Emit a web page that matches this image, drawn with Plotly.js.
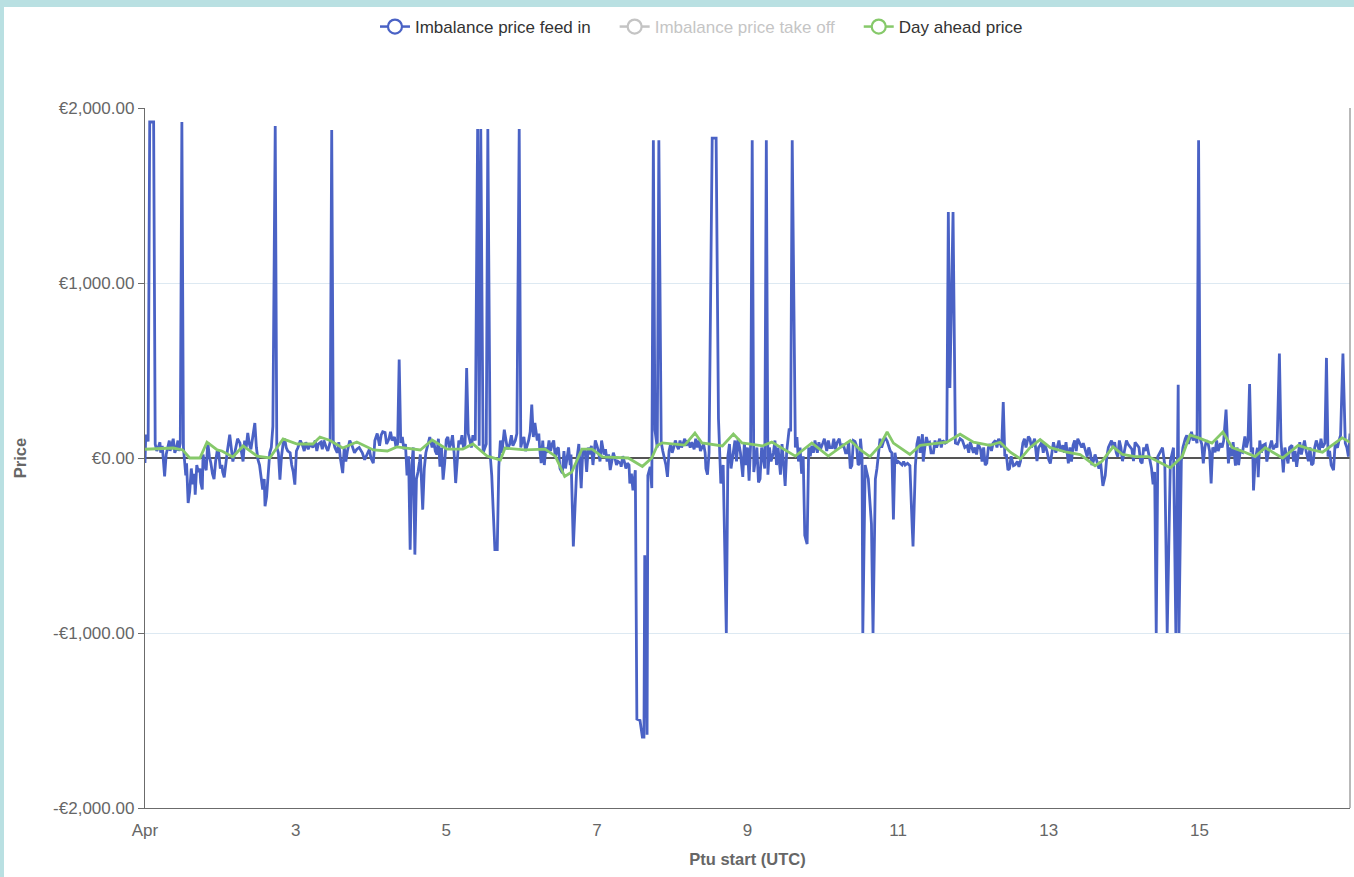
<!DOCTYPE html>
<html>
<head>
<meta charset="utf-8">
<script src="https://cdn.plot.ly/plotly-3.0.1.min.js"></script>
<style>
  html, body { margin: 0; padding: 0; background: #b9e0e2; overflow: hidden; }
  #chart { position: absolute; left: 4px; top: 7px; width: 1350px; height: 870px; background: #fff; }
</style>
</head>
<body>
<div id="chart"></div>
<script>
// ---- Data: [PTU index (quarter hours since 1 Apr 00:00 UTC), price €/MWh] ----
const feedIn = [
[0,-29],[1,133],[4,95],[6,1920],[7,1920],[8,1920],[9,1920],[10,1920],[11,1920],[13,80],[15,40],[17,60],[19,90],[20,30],[22,70],[25,-105],[27,20],[29,60],[31,100],[32,40],[34,80],[36,110],[38,30],[40,55],[42,100],[43,40],[45,85],[47,1920],[49,60],
[52,-100],[53,-30],[55,-257],[57,-190],[59,-60],[61,-150],[63,-90],[64,-210],[66,-40],[68,-80],[70,-60],[71,-140],[73,-180],[74,20],[76,-40],[78,-70],[80,90],[82,10],[84,-30],[86,-90],[88,-120],[90,-20],[92,40],[94,30],[96,-60],[98,-40],[99,-80],[101,-110],[103,-20],[105,40],
[108,133],[110,60],[112,-20],[114,20],[116,60],[118,110],[121,86],[123,40],[125,-20],[127,100],[129,60],[131,143],[133,80],[135,50],[137,120],[140,200],[142,60],[144,-10],[146,-40],[148,-100],[150,-180],[152,-120],[153,-276],[155,-220],[157,-80],[159,30],[161,60],[163,181],[166,1897],[168,60],
[170,30],[172,-124],[174,10],[176,80],[178,110],[180,60],[182,40],[185,30],[187,-40],[189,-80],[191,-152],[193,40],[195,60],[198,100],[201,70],[203,40],[205,90],[208,50],[211,80],[214,60],[217,100],[219,40],[221,80],[224,90],[226,50],[228,100],[231,60],[233,40],[236,90],[238,1874],
[240,100],[242,60],[245,30],[247,90],[249,0],[252,-86],[254,60],[256,-20],[258,40],[261,100],[264,70],[267,30],[270,50],[273,60],[277,30],[280,-10],[283,20],[286,50],[288,0],[291,-29],[293,100],[296,140],[299,70],[301,130],[303,150],[306,145],[308,80],[311,110],[313,150],[315,100],[318,120],[320,60],[322,80],[324,562],
[326,86],[328,120],[330,50],[332,80],[334,-100],[336,10],[338,-524],[340,-40],[342,60],[344,-552],[346,-120],[348,-80],[350,-20],[351,20],[354,-295],[356,-60],[358,30],[361,86],[363,120],[366,60],[368,100],[370,40],[372,20],[374,110],[376,-50],[378,60],[380,-124],[382,-30],[384,105],[386,120],[388,60],[390,80],[392,130],[394,30],[396,-143],[398,-20],[400,100],[402,80],[404,130],[406,60],[408,80],[410,514],[412,140],[414,100],[416,60],[418,130],[421,100],
[424,1880],[426,70],[428,1880],[431,30],[435,80],[437,1880],[440,20],[442,-100],[444,-314],[446,-524],[449,-524],[451,-50],[453,100],[455,30],[458,162],[460,110],[462,50],[465,80],[467,130],[469,70],[472,100],[474,140],[477,1880],[479,60],[481,100],[483,120],[485,40],[487,70],[489,100],[491,150],[493,305],[495,120],[497,200],[500,100],[502,140],[503,60],[505,-29],[507,100],[509,-40],[511,60],[513,30],[515,100],[517,40],[519,80],[521,100],[523,0],
[525,50],[527,60],[529,-60],[532,-86],[534,40],[536,-60],[538,-10],[540,60],[542,-40],[543,20],[546,-505],[548,-274],[551,10],[553,80],[554,-40],[556,-172],[558,40],[561,40],[563,-80],[565,60],[567,20],[569,70],[571,-40],[574,100],[576,72],[578,40],[580,-20],[582,100],[585,20],[587,50],[589,-20],[591,20],[593,-69],[595,-20],[597,30],[599,0],[601,-40],[603,-20],[606,-30],[607,-50],[609,10],[611,-20],[613,-60],[615,-30],[617,-40],[618,-146],[620,-90],[622,-185],[625,-70],
[627,-1492],[631,-1500],[634,-1595],[636,-1595],[637,-556],[640,-1582],[641,-100],[644,-50],[646,-172],[648,1815],[650,161],[653,60],[655,1815],[658,90],[660,40],[662,0],[664,-40],[666,-108],[668,40],[670,80],[672,30],[674,60],[676,100],[678,72],[680,50],[682,100],[684,60],[686,85],[688,110],[690,70],[692,100],[695,60],[697,90],[700,50],[702,110],[704,60],[706,100],[708,40],[710,60],[712,80],[714,30],[715,-60],[717,-95],[719,30],
[723,1828],[725,1828],[728,1828],[731,226],[734,-146],[737,-40],[741,-1000],[743,10],[745,80],[747,-60],[750,50],[752,100],[754,-20],[756,110],[759,30],[762,-108],[764,90],[766,-40],[768,60],[770,-130],[772,80],[774,1815],[776,-80],[778,10],[780,60],[782,-140],[784,-120],[786,60],[788,10],[790,-60],[792,1815],[794,-95],[796,60],[798,-20],[801,30],[803,100],[805,-40],[807,60],[810,-95],[812,80],[814,-30],[816,-159],[818,40],[821,161],[823,160],[825,1815],[829,60],[831,120],[833,-20],[835,60],[837,-90],[839,10],[841,-441],[844,-492],[846,60],[848,10],[850,70],[852,30],[854,100],[857,30],[859,90],[861,50],[864,85],[866,110],[869,40],[871,100],[873,60],[876,60],[878,110],[880,50],[882,85],[885,110],[887,60],[890,80],[893,30],[895,30],[897,90],[899,-60],[901,-44],[903,100],[905,95],[907,70],[909,-40],[911,-30],[912,110],[914,10],
[915,-1000],[918,-40],[922,-120],[926,-377],[928,-1000],[931,-120],[933,-60],[935,30],[937,110],[939,60],[941,85],[943,120],[946,97],[948,60],[950,40],[952,30],[954,-351],[956,30],[958,-30],[960,-20],[963,-30],[965,-40],[967,-20],[969,-40],[972,-30],[975,-44],[978,-402],[979,-505],[982,-44],[984,80],[986,123],[988,30],[991,136],[992,-20],[994,60],[996,120],[998,85],[1000,90],[1002,30],[1005,30],[1007,100],[1009,60],[1011,85],[1013,110],[1015,60],[1017,100],[1020,85],[1022,90],
[1024,1405],[1026,400],[1030,1405],[1033,85],[1036,80],[1039,110],[1042,100],[1045,60],[1048,70],[1050,30],[1052,90],[1056,30],[1058,60],[1060,20],[1062,80],[1065,50],[1067,-20],[1069,60],[1071,-40],[1073,-30],[1075,60],[1077,80],[1079,40],[1081,85],[1084,100],[1086,60],[1088,110],[1090,85],[1092,60],[1094,320],
[1096,10],[1098,20],[1100,-69],[1102,-60],[1104,10],[1107,-44],[1109,-40],[1112,-20],[1114,-50],[1116,-18],[1118,40],[1119,85],[1121,110],[1123,60],[1126,123],[1128,110],[1130,60],[1132,85],[1134,110],[1137,-18],[1139,60],[1141,72],[1143,90],[1145,30],[1147,80],[1150,33],[1152,-10],[1154,-31],[1156,40],[1158,90],[1161,30],[1163,59],[1165,100],[1167,40],[1170,72],[1172,30],[1174,90],[1177,-31],[1179,60],[1181,-20],[1183,72],[1185,100],[1187,40],[1189,110],[1192,85],[1194,60],[1196,85],[1198,50],[1201,8],[1203,60],[1205,30],[1207,-40],[1209,-18],[1211,20],
[1214,-20],[1216,-60],[1218,-20],[1221,-159],[1224,-100],[1226,8],[1228,60],[1230,85],[1232,100],[1234,59],[1236,90],[1238,30],[1240,8],[1242,100],[1244,60],[1246,-18],[1248,30],[1249,72],[1251,100],[1253,80],[1256,59],[1258,50],[1260,-18],[1262,90],[1265,72],[1267,60],[1269,-20],[1271,-31],[1273,60],[1275,40],[1277,80],[1279,33],[1281,-18],[1283,-60],[1285,-150],[1287,-80],
[1289,-1000],[1291,8],[1297,59],[1300,-44],[1303,-1000],[1307,-18],[1311,59],[1314,-1000],[1317,418],[1318,-1000],[1321,-18],[1323,60],[1326,110],[1328,130],[1330,80],[1332,110],[1334,150],[1336,100],[1338,130],[1341,85],[1343,1815],[1345,110],[1347,80],[1349,-31],[1351,60],[1353,100],[1355,85],[1357,40],[1359,-146],[1361,60],[1364,33],[1366,100],[1368,40],[1371,85],[1373,60],[1375,100],[1378,277],[1381,-31],[1383,60],[1385,10],[1387,90],[1390,-44],[1392,60],[1394,-40],[1396,40],[1399,33],[1402,123],[1404,60],[1406,100],[1408,423],[1410,33],[1412,60],[1413,-185],[1415,-20],[1418,59],[1419,-110],[1421,100],[1423,30],[1425,72],[1428,80],[1430,-20],[1432,33],[1434,60],[1436,100],[1438,50],[1441,72],[1443,60],[1446,597],[1448,100],[1450,8],[1451,-82],[1453,60],[1455,0],[1457,-31],[1459,60],[1462,72],[1464,-20],[1466,40],[1468,-50],[1470,33],[1472,90],[1474,20],[1476,59],[1478,100],[1480,40],[1483,-18],[1485,60],[1487,-40],[1489,-31],[1491,60],[1493,100],[1495,72],[1497,40],[1499,110],[1501,60],[1504,85],[1506,572],[1508,8],[1510,40],[1512,-40],[1515,-69],[1517,80],[1520,59],[1522,100],[1524,130],[1527,597],[1530,85],[1532,60],[1534,8],[1536,140]
];

const dayAhead = [
[0,50],[36,57],[48,46],[57,0],[70,0],[79,91],[92,46],[98,40],[112,6],[125,69],[143,11],[159,0],[176,109],[194,80],[214,80],[223,120],[236,100],[252,57],[270,91],[291,46],[309,40],[321,63],[351,46],[366,103],[385,51],[405,51],[418,80],[436,11],[453,-11],[459,57],[484,46],[510,51],[523,11],[535,-106],[544,-80],[557,51],[570,51],[583,6],[616,0],[634,-48],[646,0],[653,72],[659,86],[688,74],[701,143],[710,86],[736,69],[750,137],[761,86],[787,69],[799,91],[816,46],[829,11],[850,86],[871,11],[889,69],[899,100],[912,46],[924,8],[937,72],[946,149],[954,85],[975,20],[988,72],[1005,80],[1022,90],[1039,136],[1056,90],[1077,72],[1090,90],[1103,33],[1116,-5],[1128,59],[1141,105],[1154,59],[1175,33],[1192,20],[1211,-44],[1220,-18],[1234,64],[1246,20],[1262,8],[1279,8],[1297,-31],[1307,-56],[1322,8],[1332,131],[1343,115],[1360,85],[1374,149],[1386,59],[1402,33],[1415,8],[1428,59],[1450,0],[1470,72],[1488,46],[1501,33],[1526,115],[1536,90]
];

const takeOff = [];   // hidden series (legend only)

const seriesNames = ["Imbalance price feed in", "Imbalance price take off", "Day ahead price"];
const yTickVals = [-2000, -1000, 0, 1000, 2000];
const yTickText = ["-€2,000.00", "-€1,000.00", "€0.00", "€1,000.00", "€2,000.00"];
const xTickDays = [1, 3, 5, 7, 9, 11, 13, 15];
const xTickText = ["Apr", "3", "5", "7", "9", "11", "13", "15"];
const rangeDays = [1, 17];

// ---- helpers ----
function pad(n) { return (n < 10 ? "0" : "") + n; }
function ptuToDate(p) {
  const d = new Date(Date.UTC(2024, 3, 1) + p * 15 * 60000);
  return d.getUTCFullYear() + "-" + pad(d.getUTCMonth() + 1) + "-" + pad(d.getUTCDate()) + " " +
         pad(d.getUTCHours()) + ":" + pad(d.getUTCMinutes());
}
function dayToDate(day) { return "2024-04-" + pad(day); }
function sorted(arr) { return arr.slice().sort((a, b) => a[0] - b[0]); }
function xs(arr) { return arr.length ? sorted(arr).map(p => ptuToDate(p[0])) : [null]; }
function ys(arr) { return arr.length ? sorted(arr).map(p => p[1]) : [null]; }
const GAP = "\u00a0\u00a0\u00a0\u00a0";

const BLUE = "#4a62c5";
const GREY = "#8a8a8a";
const GREEN = "#86c96a";

const legendMarker = (c) => ({ symbol: "circle", size: 14, color: "#ffffff", line: { color: c, width: 2.2 } });

const traces = [
  { x: [null], y: [null], type: "scatter", mode: "lines+markers", name: seriesNames[0] + GAP, legendgroup: "a",
    line: { color: BLUE, width: 2.5 }, marker: legendMarker(BLUE), hoverinfo: "skip" },
  { x: xs(takeOff), y: ys(takeOff), type: "scatter", mode: "lines+markers",
    name: '<span style="color:#8c8c8c">' + seriesNames[1] + GAP + '</span>', legendgroup: "b", visible: "legendonly",
    line: { color: GREY, width: 2.5 }, marker: legendMarker(GREY) },
  { x: [null], y: [null], type: "scatter", mode: "lines+markers", name: seriesNames[2], legendgroup: "c",
    line: { color: GREEN, width: 2.5 }, marker: legendMarker(GREEN), hoverinfo: "skip" },
  { x: xs(feedIn), y: ys(feedIn), type: "scatter", mode: "lines", name: seriesNames[0],
    legendgroup: "a", showlegend: false, line: { color: BLUE, width: 2.8 } },
  { x: xs(dayAhead), y: ys(dayAhead), type: "scatter", mode: "lines", name: seriesNames[2],
    legendgroup: "c", showlegend: false, line: { color: GREEN, width: 2.8 } }
];

const layout = {
  width: 1350, height: 870,
  margin: { l: 141, r: 4, t: 101, b: 69, autoexpand: false },
  paper_bgcolor: "#ffffff", plot_bgcolor: "#ffffff",
  font: { family: "Liberation Sans, Arial, Helvetica, sans-serif", size: 17, color: "#666" },
  showlegend: true,
  legend: { orientation: "h", xref: "container", yref: "container", x: 0.2748, xanchor: "left",
            y: 0.977, yanchor: "middle", font: { size: 17, color: "#333" }, itemwidth: 30 },
  xaxis: {
    type: "date",
    range: [dayToDate(rangeDays[0]), dayToDate(rangeDays[1])],
    tickvals: xTickDays.map(dayToDate), ticktext: xTickText,
    showgrid: false, zeroline: false,
    showline: true, linecolor: "#6b6b6b", linewidth: 1.2,
    ticks: "", ticklabelstandoff: 6,
    tickfont: { size: 17, color: "#666" },
    title: { text: "<b>Ptu start (UTC)</b>", font: { size: 16.5, color: "#666" }, standoff: 14 }
  },
  yaxis: {
    range: [-2000, 2000],
    tickvals: yTickVals, ticktext: yTickText,
    showgrid: true, gridcolor: "#dde9f2", gridwidth: 1,
    zeroline: true, zerolinecolor: "#555", zerolinewidth: 1.2,
    showline: true, linecolor: "#6b6b6b", linewidth: 1.2,
    ticks: "outside", ticklen: 6, tickcolor: "#6b6b6b",
    tickfont: { size: 17, color: "#666" },
    title: { text: "<b>Price</b>", font: { size: 16.5, color: "#666" }, standoff: 22 }
  },
  shapes: [
    { type: "line", xref: "paper", yref: "paper", x0: 1, x1: 1, y0: 0, y1: 1,
      line: { color: "#8a8a8a", width: 1.2 } }
  ]
};

Plotly.newPlot("chart", traces, layout, { displayModeBar: false, staticPlot: true });
</script>
</body>
</html>
